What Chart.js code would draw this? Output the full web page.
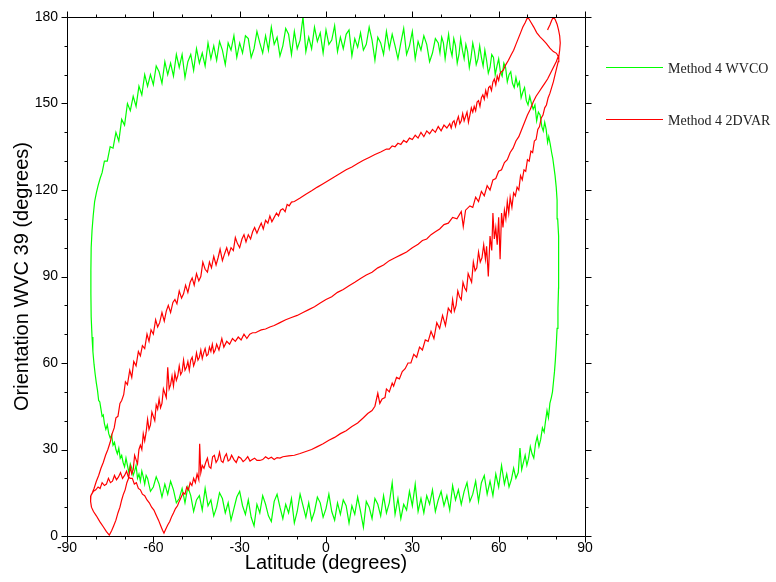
<!DOCTYPE html>
<html>
<head>
<meta charset="utf-8">
<script src="https://cdn.jsdelivr.net/npm/chart.js@4.4.0/dist/chart.umd.min.js"></script>
<style>
html, body { margin: 0; padding: 0; background: #fff; }
#wrap { position: relative; width: 776px; height: 582px; }
</style>
</head>
<body>
<div id="wrap"><canvas id="chart"></canvas></div>
<script>
// Osie
const xTickLabels = [-90, -60, -30, 0, 30, 60, 90];
const yTickLabels = [0, 30, 60, 90, 120, 150, 180];
const xTitle = 'Latitude (degrees)';
const yTitle = 'Orientation WVC 39 (degrees)';
const seriesNames = ['Method 4 WVCO', 'Method 4 2DVAR'];

// Method 4 WVCO: [latitude, orientation], w kolejnosci orbity
const wvcoPoints = [
  [-81.6,100],[-81.7,92],[-81.7,84],[-81.6,76],[-81.3,69],[-81,64],[-80.6,59.5],[-80.2,56],[-79.8,53],
  [-79.4,50.5],[-79,47],[-78.6,46.5],[-78.2,44],[-77.8,41.5],[-77.4,42],[-77,39],[-76.5,37],[-76,38.5],
  [-75.5,35.5],[-75,34],[-74.5,35],[-74,31.5],[-73.5,32.5],[-73,30],[-72.5,28.5],[-72,30.5],[-71.5,27],
  [-71,28],[-70.5,25.5],[-70,24],[-69.5,27],[-69,24.5],[-68.5,22],[-68,25],[-67.5,23.5],[-67,21],
  [-66.5,22.5],[-66,24.5],[-65.5,20],[-65,21.5],[-64.5,19],[-64,22.5],[-63.5,20.5],[-63,18],[-62.5,21],
  // dolna krawedz
  [-62,20],[-61,15.5],[-60,17],[-59,20.5],[-58,18],[-57,13.5],[-56,18],[-55,14.5],[-54,19],[-53,16],
  [-52,11.5],[-51,13],[-50,16.5],[-49,11.5],[-48,17],[-47,14],[-46,8.5],[-45,12.5],[-44,14],[-43,9],
  [-42,16.5],[-41,10.5],[-40,12.5],[-39,7],[-38,10],[-37,15],[-36,13],[-35,8],[-34,11.5],[-33,5.5],
  [-32,9.5],[-31,13.5],[-30,15.5],[-29,10.5],[-28,7.5],[-27,12.5],[-26,6.5],[-25,3.5],[-24,11],[-23,8],
  [-22,14],[-21,11],[-20,7],[-19,5],[-18,12],[-17,14.5],[-16,10],[-15,6],[-14,11],[-13,8],[-12,13],
  [-11,4.5],[-10,8.5],[-9,14.5],[-8,10.5],[-7,6.5],[-6,11.5],[-5,5.5],[-4,8.5],[-3,13.5],[-2,11.5],
  [-1,6.5],[0,9.5],[1,14.5],[2,8.5],[3,5.5],[4,11.5],[5,7.5],[6,12.5],[7,10.5],[8,4.5],[9,10.5],[10,7.5],
  [11,13.5],[12,8.5],[13,3],[14,12],[15,10],[16,6],[17,13],[18,11],[19,7],[20,14],[21,8],[22,11.5],
  [23,18.5],[24,7.5],[25,13],[26,6],[27,11],[28,9],[29,15.5],[30,10.5],[31,18],[32,8.5],[33,13],[34,8],
  [35,14],[36,11],[37,16],[38,8.5],[39,12.5],[40,15.5],[41,10.5],[42,14],[43,9],[44,17.5],[45,12.5],
  [46,16],[47,11],[48,15.5],[49,18.5],[50,12],[51,14.5],[52,19],[53,12],[54,18.5],[55,21],[56,14.5],
  [57,19],[58,14],[59,21.5],[60,17],[61,24.5],[62,18],
  // prawa krawedz
  [62.8,21.5],[63.6,17],[64.4,19.5],[65.2,23.5],[66,20],[66.8,22],[67.4,30.5],[68,23],[68.6,25.5],[69.2,28],
  [69.8,24.5],[70.4,27],[71,31],[71.6,28.5],[72.2,27],[72.8,32],[73.4,34.5],[74,31],[74.6,33.5],[75.2,37.5],
  [75.8,36],[76.3,40],[76.8,43.5],[77.3,41],[77.8,46],[78.3,48],[78.7,50],[79.1,54],[79.4,57],[79.7,61],
  [80,66],[80.3,72],[80.6,79],[80.8,86],[80.9,92],[80.9,98],[80.7,104],[80.5,110],[80.3,116.5],[80,121],
  [79.6,125],[79.2,128],[78.8,131],[78.4,133],[77.9,136],[77.4,138.5],[77,136.5],[76.5,141],[76,143.5],
  [75.5,140.5],[75,142],[74.4,146],[73.8,147],[73.2,144],[72.6,149.5],[72,148],[71.4,150],[70.8,152.5],
  [70.2,149.5],[69.6,151],[69,155.5],[68.4,154],[67.8,152],[67.2,157.5],[66.6,156],[66,159],[65.4,155.5],
  [64.8,157],[64.2,161],[63.6,160],[63,157.5],[62.4,162.5],[61.8,164],[61.2,159.5],[60.6,161],[60,165.5],
  [59.4,163],[58.8,160],[58.2,166],[57.6,167],[57,162.5],[56.4,160.5],[55.8,165],[55.2,168.5],[54.6,163],
  [54,166],[53.4,170],[52.8,165.5],[52.2,163.5],[51.6,168],[51,171],[50.4,166],[49.8,162.5],[49.2,168],
  [48.6,170.5],[48,165.5],[47.4,168.5],[46.8,172.5],[46.2,167],[45.6,164],[45,170],[44.4,172.5],
  [43.8,166.5],[43.2,169],[42.6,174],[42,170],[41.4,165.5],[40.8,171],[40.2,173],[39.6,167.5],[39,171],
  // gorna krawedz
  [38,172.5],[37,167.5],[36,164.5],[35,170.5],[34,173.5],[33,168.5],[32,171.5],[31,165.5],[30,175],
  [29,170],[28,167],[27,176],[26,171],[25,165.5],[24,170],[23,174],[22,169],[21,175],[20,167],[19,171],
  [18,173],[17,165],[16,172],[15,176.5],[14,170.5],[13,168.5],[12,174.5],[11,169.5],[10,172.5],[9,166.5],
  [8,175.5],[7,174],[6,169],[5,173],[4,168],[3,177],[2,172],[1,170.5],[0,175.5],[-1,167.5],[-2,174.5],
  [-3,171.5],[-4,176.5],[-5,169],[-6,173],[-7,168],[-8,180],[-9,172],[-10,169],[-11,175],[-12,167],
  [-13,174],[-14,176],[-15,170],[-16,166.5],[-17,173],[-18,170.5],[-19,176.5],[-20,168.5],[-21,173.5],
  [-22,167.5],[-23,171],[-24,175],[-25,169],[-26,166],[-27,172.5],[-28,173.5],[-29,167.5],[-30,171],
  [-31,166],[-32,173.5],[-33,168.5],[-34,171],[-35,163.5],[-36,168.5],[-37,171.5],[-38,165],[-39,170],
  [-40,165.5],[-41,171],[-42,163],[-43,167.5],[-44,164],[-45,169],[-46,161.5],[-47,167],[-48,164.5],
  [-49,159],[-50,167],[-51,162.5],[-52,167],[-53,159.5],[-54,164],[-55,160],[-56,164.5],[-57,157],
  [-58,161],[-59,163],[-60,156.5],[-61,160],[-62,156],[-63,160],[-64,153],[-65,156],[-66,149],[-67,152.5],
  [-68,147.5],[-69,150],[-70,142.5],[-71,144.5],[-72,137],[-73,140],[-74,134.5],[-75,135],[-76,130],
  [-77,130],[-77.8,126],[-78.5,124],[-79.2,121.5],[-79.8,119],[-80.4,116],[-80.9,111],[-81.3,106],[-81.6,100]
];

// Method 4 2DVAR: [latitude, orientation]
const dvarPoints = [
  // od lewego wezla w dol do pierwszego minimum
  [-81.7,14],[-81.8,12],[-81.5,10],[-80.8,8.5],[-79.8,7],[-78.6,5],[-77.4,3.2],[-76.3,1.5],[-75.3,0.3],
  // galaz srodkowa
  [-74.5,1.8],[-73.8,3.5],[-73,5.5],[-72.3,8],[-71.6,10],[-71,12.5],[-70.4,14.5],[-69.8,16],[-69.2,18.5],
  [-68.6,20],[-68,24],[-67.5,21.5],[-67,23],[-66.5,28],[-66,26.5],[-65.5,25],[-65,30],[-64.5,31.5],[-64,30],
  [-63.5,35.5],[-63,33],[-62.5,36],[-62,40.5],[-61.5,37],[-61,38.5],[-60.5,43],[-60,41.5],[-59.5,40],
  [-59,45.5],[-58.5,44],[-58,47.5],[-57.5,44.5],[-57,46],[-56.5,51],[-56,49.5],[-55.5,48],[-55,58.5],
  [-54.5,51],[-54,52.5],[-53.5,55.5],[-53,52],[-52.5,56.5],[-52,54],[-51.5,55.5],[-51,59],[-50.5,56],
  [-50,57],[-49.5,61],[-49,57.5],[-48.5,58.5],[-48,60.5],[-47.5,57.5],[-47,61],[-46.5,62],[-46,59],
  [-45.5,60.5],[-45,63.5],[-44.5,61],[-44,62],[-43.5,64.5],[-43,61.5],[-42.5,63.5],[-42,65],[-41.5,62.5],
  [-41,63],[-40.5,65.5],[-40,64],[-39.5,66.5],[-39,63.5],[-38.5,64.5],[-38,66.5],[-37.2,64.5],[-36.2,68.5],
  [-35.5,65.5],[-34.5,67.5],[-33.5,66.5],[-32.5,68.5],[-31.5,67.5],[-30.5,69],[-29.5,68],[-28.5,70],
  [-27.5,68.5],[-26.5,70],[-25.5,70.5],[-24.5,70.5],[-23.5,71],[-22.5,71.5],[-21,71.8],[-19.5,72.5],
  [-18,73],[-16,74],[-14,75],[-12,75.8],[-10,76.5],[-8,77.5],[-6,78.5],[-4,79.5],[-2,80.8],[0,82],[2,83],
  [4,84.5],[6,85.5],[8,86.8],[10,88],[12,89.3],[14,90.5],[16,91.5],[18,93],[20,94],[22,95.5],[24,96.5],
  [26,97.5],[28,98.5],[30,100],[32,101.2],[33.5,102.5],[35,103],[36.5,104.5],[38,105.5],[39.5,106.5],
  [41,108],[42.5,108.5],[44,110.5],[45.5,110],[47,112.5],[47.7,107.3],[48.5,113],[50,114.5],[51,114],
  [52,117.5],[53,116],[54,119.5],[55,118],[56,121.5],[57,120],[58,123.5],[59,124],[60,126.5],[61,127],
  [62,129.5],[63,130.5],[64,133],[65,134.5],[66,137],[67,138.5],[68,141],[69,143.5],[70,146],[71,148],
  [72,150.5],[73,152.5],[74,154],[75,155.5],[76,157],[77,158.5],[78,160.5],[79,162.5],[80,164.5],[80.7,166.3],
  // pierwszy szczyt i galaz gorna z powrotem do lewego wezla
  [80.1,167.4],[79,168],[77.8,169.2],[76.6,170.8],[75.5,172],[74.3,173.2],[73.2,174.6],[72.2,176.5],
  [71.2,178.2],[70.1,180],[69.2,178],[68.4,176.5],[67.6,174.5],[66.8,172.5],[66,170.5],[65.2,168.5],
  [64.4,167],[63.4,165],[62.5,163.5],[61.6,161.6],[61,161],[60.5,160.5],[60,158],[59.5,159.5],[59,156.5],
  [58.5,158.5],[58,157.5],[57.5,154.5],[57,156],[56.5,155.5],[56,152.5],[55.5,154.5],[55,151.5],[54.5,153],
  [54,152],[53.5,149],[53,151],[52.5,150.5],[52,147.5],[51.5,149],[51,147],[50.5,148.5],[50,146],
  [49.5,143.5],[49,147],[48.5,145.5],[48,144],[47.5,146.5],[47,144],[46.5,143],[46,145.5],[45.5,144],
  [45,142],[44.5,144],[44,143.5],[43.5,141.5],[43,143],[42,141.5],[41,142.5],[40,140.5],[39,142],
  [38,140],[37,141],[36,139.5],[35,140.5],[34,138.5],[33,140],[32,138],[31,139],[30,137.5],[29,138],
  [28,136.5],[27,137.2],[26,135.8],[25,136.2],[24,135],[23,135.3],[22,134.2],[21,134.2],[19,133.2],
  [17,132.3],[15,131.3],[13,130.3],[11,129.2],[9,128],[7,127],[5,125.8],[3,124.6],[1,123.4],[-1,122.2],
  [-3,121],[-5,119.7],[-7,118.5],[-9,117.2],[-11,116],[-12,115.8],[-12.8,114.5],[-13.5,115],[-14.2,112.5],
  [-15,113.5],[-15.8,113],[-16.5,111],[-17.2,112],[-18,110.5],[-18.8,109],[-19.5,111],[-20.2,108.5],
  [-21,109.5],[-21.8,106.5],[-22.5,108.5],[-23.2,107],[-24,105],[-24.8,107],[-25.5,105.5],[-26.2,103],
  [-27,104.5],[-27.8,102],[-28.5,104.5],[-29.2,103],[-30,100],[-30.8,101.5],[-31.5,103.5],[-32.2,99],
  [-33,100],[-33.8,97.5],[-34.5,100],[-35.2,98],[-36,95.5],[-36.8,99.5],[-37.5,96.5],[-38.2,94],[-39,97],
  [-39.8,93],[-40.5,95],[-41.2,91.5],[-42,92.5],[-42.8,95],[-43.5,90],[-44.2,88.5],[-45,91],[-45.8,87],
  [-46.5,89.5],[-47.2,88],[-48,84.5],[-48.8,87],[-49.5,84],[-50.2,82.5],[-51,85],[-51.8,80.5],[-52.5,82],
  [-53.2,81],[-54,77.5],[-54.8,80],[-55.5,78],[-56.2,74.5],[-57,77.5],[-57.8,74],[-58.5,72.5],[-59.2,75],
  [-60,70],[-60.8,71.5],[-61.5,67.5],[-62.2,70],[-63,65],[-63.8,66],[-64.5,62.5],[-65.2,64],[-66,59],
  [-66.8,60.5],[-67.5,55],[-68.2,57.5],[-69,52.5],[-69.7,53.5],[-70.3,49],[-71,47],[-71.6,46],[-72.3,41.5],
  [-73,41],[-73.6,37.5],[-74.3,35.5],[-75,32.5],[-75.8,30],[-76.6,28],[-77.4,25.5],[-78.2,23.5],[-79,21],
  [-79.8,19],[-80.6,16.5],[-81.2,15],[-81.7,14],
  // galaz dolna do drugiego minimum
  [-80.8,15.5],[-80,16],[-79.2,17],[-78.5,16.5],[-77.8,18.5],[-77,17.5],[-76.3,18],[-75.6,20],[-74.9,18.5],
  [-74.2,19],[-73.5,21],[-72.8,19.5],[-72.1,20.5],[-71.4,22],[-70.7,20],[-70,21],[-69.3,22.5],[-68.7,20.5],
  [-68,20],[-67.3,20],[-66.6,18],[-65.9,18.5],[-65.2,16.5],[-64.5,16],[-63.8,14.5],[-63,14],[-62.2,12.5],
  [-61.4,11.5],[-60.6,10],[-59.8,9],[-59,7.2],[-58.2,5.5],[-57.4,3.5],[-56.8,2],[-56.3,1],
  // galaz dolna w gore do prawego wezla
  [-55.7,2.3],[-55,3.8],[-54.3,5],[-53.6,6.8],[-53,8],[-52.3,9.5],[-51.6,10.5],[-51,12],[-50.3,13.5],
  [-49.6,15],[-49,14.5],[-48.4,17],[-47.8,16],[-47.2,18.5],[-46.6,17.5],[-46,20],[-45.4,18.5],[-44.8,21.5],
  [-44.2,19.5],[-43.9,32],[-43.5,22],[-43,24.5],[-42.4,23.5],[-41.8,25.5],[-41.2,27],[-40.6,24],[-40,23.5],
  [-39.4,27.5],[-38.8,28],[-38.2,25.5],[-37.6,26.5],[-37,29],[-36.4,26],[-35.8,25.5],[-35.2,27.5],
  [-34.6,28.5],[-34,26],[-33.4,26.5],[-32.8,28],[-32,26.5],[-31.2,25.5],[-30.4,27.5],[-29.6,27],
  [-28.8,25.8],[-28,26.5],[-27.2,27.5],[-26.4,26],[-25.6,26.5],[-24.8,27],[-24,26.2],[-23,26.2],[-22,26.5],
  [-21,27.5],[-20,26.8],[-19,27.3],[-18,26.5],[-17,27.2],[-16,27],[-15,27.5],[-13,27.8],[-11,28],[-9,28.6],
  [-7,29.3],[-5,30],[-3,31],[-1,32],[1,33.2],[3,34.2],[5,35.5],[7,36.5],[9,38],[11,39.2],[13,41],
  [14.5,42.5],[16,43.5],[17,45],[18,49.5],[18.7,46],[19.5,47.5],[20.5,48],[21,51],[22,50],[23,53],
  [23.5,52],[24.5,55],[25.5,54.5],[26.5,57],[27.5,58],[28.5,60],[29.5,60],[30.5,63],[31.5,62],[32.5,65.5],
  [33.5,64.5],[34.5,68],[35.5,67.5],[36.5,71],[37.5,68.5],[38.5,74],[39.5,72],[40.5,76.5],[41.5,73],
  [42.5,79],[43.5,77.5],[44,82],[44.6,78],[45.2,80],[45.8,85],[46.4,83],[47,82],[47.6,88],[48.2,86],
  [48.8,85],[49.4,91],[50,89.5],[50.6,88],[51.2,95],[51.8,92],[52.4,93],[53,98.5],[53.6,95],[54.2,96.5],
  [54.8,101],[55.4,96],[55.8,100.5],[56.4,90],[57,104],[57.6,99],[58,112],[58.5,103],[59,107],[59.5,101],
  [60,110.5],[60.5,96],[61,112],[61.5,107],[62,113],[62.5,110],[63,116],[63.5,112],[64,117.5],[64.6,114],
  [65.2,119],[65.8,118],[66.4,121],[67,120],[67.6,125],[68.2,123.5],[68.8,127],[69.4,126.5],[70,130.5],
  [70.6,130],[71.2,133.5],[71.8,133],[72.4,137],[73,137.5],[73.6,141],[74.2,142],[74.8,145],[75.4,146],
  [76,148.5],[76.6,149.5],[77.2,152],[77.8,153.5],[78.4,155.5],[79,157.5],[79.6,160],[80.2,162.5],
  [80.7,164.5],[80.9,166.3],
  // petla przy drugim szczycie
  [81.2,168.5],[81.4,171],[81.2,173.5],[80.8,175.5],[80.3,177.5],[79.6,179.2],[79,180],[78.4,178.8],
  [77.8,177.2],[77.2,176],[77,175.5]
];

function toXY(points) {
    return points.map(p => ({ x: p[0], y: p[1] }));
}

// --- RAMKA, PODZIALKI, OPISY ---
const axesPlugin = {
    id: 'axesPlugin',
    afterDraw(chart) {
        const { ctx, chartArea: a, scales: { x, y } } = chart;
        const L = Math.round(a.left) + 0.5, R = Math.round(a.right) + 0.5;
        const T = Math.round(a.top) + 0.5, B = Math.round(a.bottom) + 0.5;
        ctx.save();
        ctx.strokeStyle = '#000';
        ctx.lineWidth = 1;
        ctx.beginPath();
        ctx.rect(L, T, R - L, B - T);

        for (let v = -90; v <= 90; v += 10) {
            const px = Math.round(x.getPixelForValue(v)) + 0.5;
            const len = v % 30 === 0 ? 6 : 3;
            ctx.moveTo(px, B); ctx.lineTo(px, B + len);
            ctx.moveTo(px, T); ctx.lineTo(px, T - len);
        }
        for (let v = 0; v <= 180; v += 10) {
            const py = Math.round(y.getPixelForValue(v)) + 0.5;
            const len = v % 30 === 0 ? 6 : 3;
            ctx.moveTo(L, py); ctx.lineTo(L - len, py);
            ctx.moveTo(R, py); ctx.lineTo(R + len, py);
        }
        ctx.stroke();

        ctx.fillStyle = '#000';
        ctx.font = '14px "Liberation Sans", Arial, sans-serif';
        ctx.textAlign = 'center';
        ctx.textBaseline = 'alphabetic';
        xTickLabels.forEach(v => ctx.fillText(String(v), x.getPixelForValue(v), 552));
        ctx.textAlign = 'right';
        ctx.textBaseline = 'middle';
        yTickLabels.forEach(v => ctx.fillText(String(v), a.left - 9, y.getPixelForValue(v)));

        ctx.font = '20px "Liberation Sans", Arial, sans-serif';
        ctx.textAlign = 'center';
        ctx.textBaseline = 'alphabetic';
        ctx.fillText(xTitle, (a.left + a.right) / 2, 569);
        ctx.save();
        ctx.translate(28, (a.top + a.bottom) / 2);
        ctx.rotate(-Math.PI / 2);
        ctx.fillText(yTitle, 0, 0);
        ctx.restore();

        // legenda
        const rows = [
            { name: seriesNames[0], color: '#00ff00', y: 67 },
            { name: seriesNames[1], color: '#ff0000', y: 119 }
        ];
        ctx.font = '14px "Liberation Serif", "Times New Roman", serif';
        ctx.textAlign = 'left';
        rows.forEach(r => {
            ctx.strokeStyle = r.color;
            ctx.beginPath();
            ctx.moveTo(606, r.y + 0.5); ctx.lineTo(663, r.y + 0.5);
            ctx.stroke();
            ctx.fillStyle = '#222';
            ctx.fillText(r.name, 668, r.y + 6);
        });
        ctx.restore();
    }
};

new Chart(document.getElementById('chart'), {
    type: 'scatter',
    data: {
        datasets: [
            {
                label: seriesNames[0],
                data: toXY(wvcoPoints),
                borderColor: '#00ff00',
                borderWidth: 1.2,
                showLine: true,
                pointRadius: 0,
                order: 1
            },
            {
                label: seriesNames[1],
                data: toXY(dvarPoints),
                borderColor: '#ff0000',
                borderWidth: 1.2,
                showLine: true,
                pointRadius: 0,
                order: 0
            }
        ]
    },
    options: {
        responsive: true,
        maintainAspectRatio: false,
        animation: false,
        layout: { padding: { left: 67, right: 191, top: 17, bottom: 46 } },
        elements: { line: { tension: 0 } },
        plugins: { legend: { display: false }, tooltip: { enabled: false } },
        scales: {
            x: { type: 'linear', min: -90, max: 90, display: false },
            y: { type: 'linear', min: 0, max: 180, display: false }
        }
    },
    plugins: [axesPlugin]
});
</script>
</body>
</html>
